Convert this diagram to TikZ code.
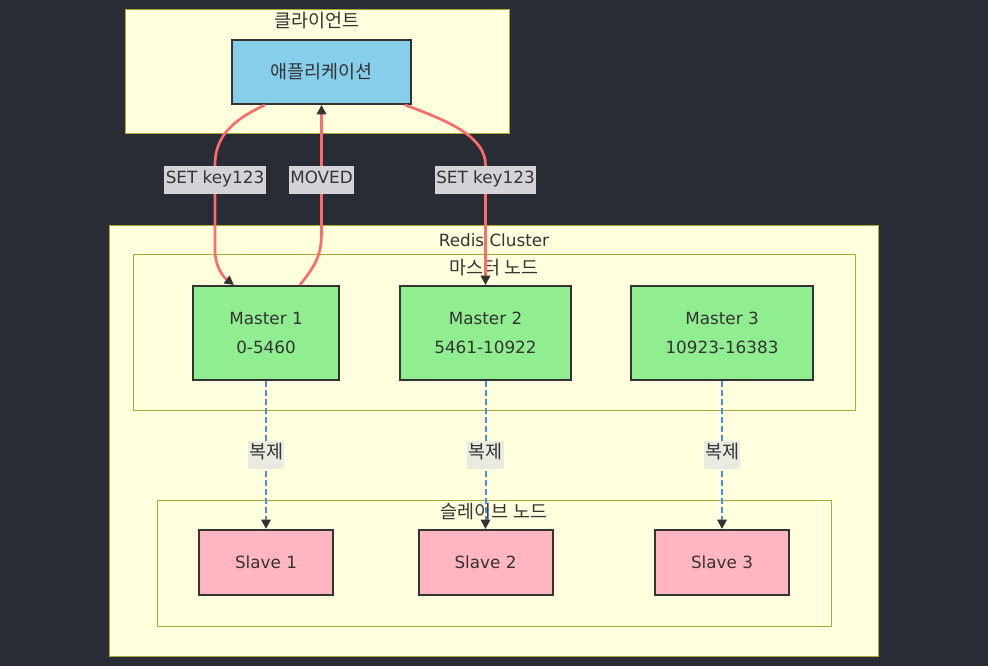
\documentclass[tikz,border=0pt]{standalone}
\usepackage{fontspec}
\setmainfont{DejaVu Sans}
\newfontfamily\kr[Scale=1.1]{Noto Sans CJK KR}
\usetikzlibrary{arrows.meta}
\definecolor{bgdark}{HTML}{282C34}
\definecolor{clusterfill}{HTML}{FFFFDE}
\definecolor{clusterline}{HTML}{AAAA33}
\definecolor{txtgray}{HTML}{333333}
\definecolor{appblue}{HTML}{87CEEB}
\definecolor{mastergreen}{HTML}{90EE90}
\definecolor{slavepink}{HTML}{FFB6C1}
\definecolor{reqred}{HTML}{FF6B6B}
\definecolor{repblue}{HTML}{4A90E2}
\definecolor{reqlabel}{HTML}{D4D4D8}
\definecolor{replabel}{HTML}{EAEAE2}

\begin{document}
\begin{tikzpicture}[
                    x=0.75pt, y=-0.75pt,
                    font=\fontsize{12.6}{14}\selectfont,
                    cluster/.style={
                        draw=clusterline, fill=clusterfill,
                        line width=0.75pt
                        },
                    title/.style={
                        text=txtgray, inner sep=0pt
                        },
                    module/.style={
                        rectangle, draw=txtgray, line width=1.5pt,
                        text=txtgray, align=center,
                        font=\fontsize{12.6}{21.75}\selectfont
                        },
                    master/.style={
                        module, fill=mastergreen,
                        minimum height=70.5pt
                        },
                    slave/.style={
                        module, fill=slavepink,
                        minimum width=100.5pt, minimum height=48.75pt
                        },
                    req/.style={
                        draw=reqred, line width=2pt,
                        -{Triangle[length=7pt, width=7pt, color=txtgray]}
                        },
                    rep/.style={
                        draw=repblue, line width=1.5pt,
                        dash pattern=on 4.5pt off 2.25pt,
                        -{Triangle[length=7pt, width=7pt, color=txtgray]}
                        },
                    elabel/.style={
                        fill=reqlabel, text=txtgray,
                        inner xsep=1pt, inner ysep=0pt,
                        text height=13pt, text depth=8pt
                        },
                    rlabel/.style={
                        elabel, fill=replabel
                        }
                    ]
    \fill[bgdark] (0,0) rectangle (988,666);

    \draw[cluster] (125,10) rectangle (509,134);
    \node[title] (clienttitle) at (317,21) {\kr 클라이언트};
    \draw[cluster] (109,226) rectangle (878,656);
    \node[title] (clustertitle) at (494,240) {Redis Cluster};
    \draw[cluster] (133,255) rectangle (855,410);
    \node[title] (mastertitle) at (494,268) {\kr 마스터 노드};
    \draw[cluster] (157,500) rectangle (831,626);
    \node[title] (slavetitle) at (494,512) {\kr 슬레이브 노드};

    \node[module, fill=appblue, minimum width=134.25pt, minimum height=48pt] (app) at (321.5,72) {\kr 애플리케이션};

    \node[master, minimum width=109.5pt] (m1) at (266,333) {Master 1\\0-5460};
    \node[master, minimum width=128.25pt] (m2) at (485.5,333) {Master 2\\5461-10922};
    \node[master, minimum width=136.5pt] (m3) at (722,333) {Master 3\\10923-16383};

    \node[slave] (s1) at (266,562.5) {Slave 1};
    \node[slave] (s2) at (485.5,562.5) {Slave 2};
    \node[slave] (s3) at (722,562.5) {Slave 3};

    \draw[req] ([xshift=-42.4pt]app.south) .. controls (228,122) and (215,140) .. (215,165)
        -- node[elabel] {SET key123} (215,195) -- (215,250)
        .. controls (215,265) and (222,276) .. ([xshift=-24pt]m1.north);
    \draw[req] ([xshift=25.5pt]m1.north) .. controls (313,268) and (321,258) .. (321.5,235)
        -- (321.5,195) -- node[elabel] {MOVED} (321.5,165) -- (app.south);
    \draw[req] ([xshift=62.6pt]app.south) .. controls (452,122) and (485.5,138) .. (485.5,165)
        -- node[elabel] {SET key123} (485.5,195) -- (m2.north);

    \draw[rep] (m1) -- node[rlabel] {\kr 복제} (s1);
    \draw[rep] (m2) -- node[rlabel] {\kr 복제} (s2);
    \draw[rep] (m3) -- node[rlabel] {\kr 복제} (s3);
\end{tikzpicture}
\end{document}
